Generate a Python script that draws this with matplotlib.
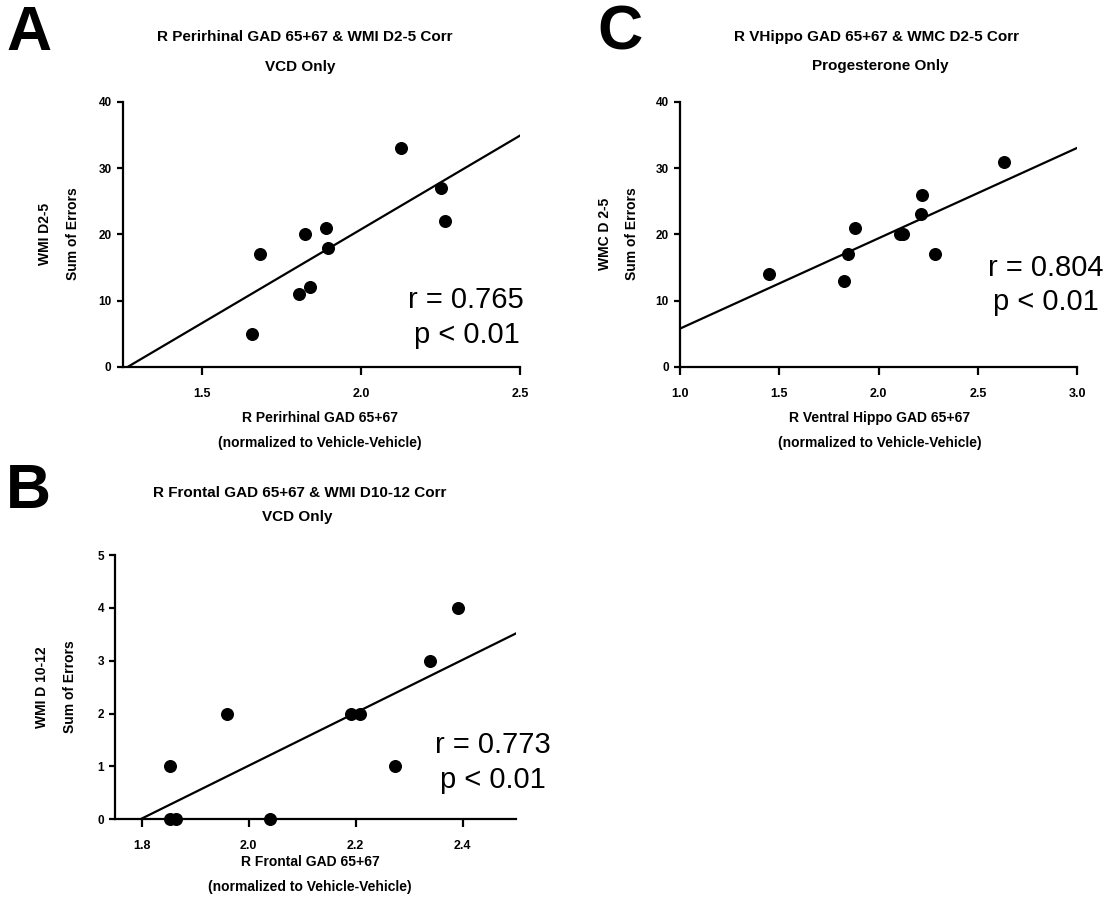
import numpy as np
import matplotlib
matplotlib.use("Agg")
import matplotlib.pyplot as plt
from matplotlib.ticker import FormatStrFormatter

plt.rcParams['font.family'] = ['Liberation Sans', 'DejaVu Sans']

# panel A: R perirhinal vs WMI D2-5
a_x = [1.657, 1.681, 1.804, 1.840, 1.825, 1.889, 1.897, 2.127, 2.253, 2.263]
a_y = [5, 17, 11, 12, 20, 21, 18, 33, 27, 22]
# panel C: R ventral hippo vs WMC D2-5
c_x = [1.450, 1.824, 1.847, 1.879, 2.108, 2.125, 2.211, 2.216, 2.282, 2.633]
c_y = [14, 13, 17, 21, 20, 20, 23, 26, 17, 31]
# panel B: R frontal vs WMI D10-12
b_x = [1.852, 1.852, 1.864, 1.960, 2.039, 2.191, 2.208, 2.273, 2.339, 2.392]
b_y = [1, 0, 0, 2, 0, 2, 2, 1, 3, 4]

W, H = 1120, 909
fig = plt.figure(figsize=(W / 100, H / 100), dpi=100)


def box(x0, y0, x1, y1):
    # pixel box -> figure fraction
    return [x0 / W, 1 - y1 / H, (x1 - x0) / W, (y1 - y0) / H]


def ftext(x, y, s, **kw):
    fig.text(x / W, 1 - y / H, s, ha='center', va='center', **kw)


def panel(rect, xs, ys, xlim, xticks, ylim, yticks):
    ax = fig.add_axes(rect)
    ax.scatter(xs, ys, s=70, color='black', zorder=3, clip_on=False)
    m, b = np.polyfit(xs, ys, 1)
    lx = np.array(xlim)
    ax.plot(lx, m * lx + b, color='black', lw=1.6)
    ax.set_xlim(xlim)
    ax.set_ylim(ylim)
    ax.set_xticks(xticks)
    ax.set_yticks(yticks)
    ax.xaxis.set_major_formatter(FormatStrFormatter('%.1f'))
    for s in ['top', 'right']:
        ax.spines[s].set_visible(False)
    for s in ['left', 'bottom']:
        ax.spines[s].set_linewidth(1.6)
    ax.tick_params(axis='y', width=1.6, length=4, labelsize=8.5, pad=4)
    ax.tick_params(axis='x', width=1.6, length=6, labelsize=9, pad=9)
    for lab in ax.get_xticklabels() + ax.get_yticklabels():
        lab.set_fontweight('bold')
    return ax


panel(box(122.7, 102, 520, 366.7), a_x, a_y, (1.25, 2.5), [1.5, 2.0, 2.5], (0, 40), [0, 10, 20, 30, 40])
panel(box(680, 102, 1077.3, 366.7), c_x, c_y, (1.0, 3.0), [1.0, 1.5, 2.0, 2.5, 3.0], (0, 40), [0, 10, 20, 30, 40])
panel(box(115, 555, 516, 819.3), b_x, b_y, (1.75, 2.5), [1.8, 2.0, 2.2, 2.4], (0, 5), [0, 1, 2, 3, 4, 5])

tb = dict(fontsize=11, fontweight='bold')
# panel letters
ftext(29, 33, 'A', fontsize=45, fontweight='bold')
ftext(620, 33, 'C', fontsize=45, fontweight='bold')
ftext(28, 491, 'B', fontsize=45, fontweight='bold')

# titles
ftext(305, 37, 'R Perirhinal GAD 65+67 & WMI D2-5 Corr', **tb)
ftext(300, 67, 'VCD Only', **tb)
ftext(876, 37, 'R VHippo GAD 65+67 & WMC D2-5 Corr', **tb)
ftext(880, 66, 'Progesterone Only', **tb)
ftext(300, 493, 'R Frontal GAD 65+67 & WMI D10-12 Corr', **tb)
ftext(297, 517, 'VCD Only', **tb)

lb = dict(fontsize=10, fontweight='bold')
# x labels
ftext(320, 418, 'R Perirhinal GAD 65+67', **lb)
ftext(320, 443, '(normalized to Vehicle-Vehicle)', **lb)
ftext(880, 418, 'R Ventral Hippo GAD 65+67', **lb)
ftext(880, 443, '(normalized to Vehicle-Vehicle)', **lb)
ftext(310, 862, 'R Frontal GAD 65+67', **lb)
ftext(310, 887, '(normalized to Vehicle-Vehicle)', **lb)

# y labels
ftext(45, 234, 'WMI D2-5', rotation=90, **lb)
ftext(73, 234, 'Sum of Errors', rotation=90, **lb)
ftext(605, 234, 'WMC D 2-5', rotation=90, **lb)
ftext(632, 234, 'Sum of Errors', rotation=90, **lb)
ftext(42, 687, 'WMI D 10-12', rotation=90, **lb)
ftext(70, 687, 'Sum of Errors', rotation=90, **lb)

# stats
st = dict(fontsize=21)
ftext(466, 300, 'r = 0.765', **st)
ftext(467, 335, 'p < 0.01', **st)
ftext(1046, 268, 'r = 0.804', **st)
ftext(1046, 302, 'p < 0.01', **st)
ftext(493, 745, 'r = 0.773', **st)
ftext(493, 780, 'p < 0.01', **st)

fig.savefig('out.png', dpi=100)
